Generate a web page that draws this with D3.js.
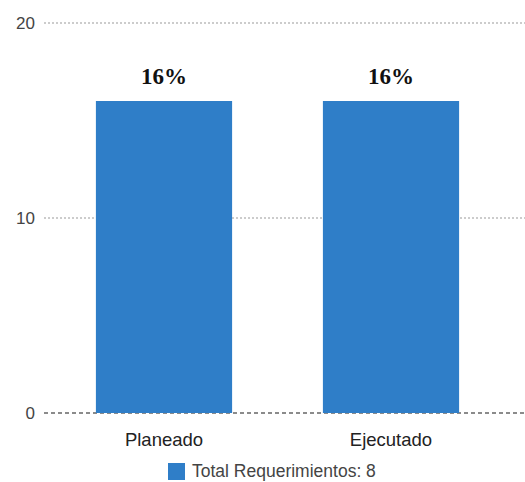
<!DOCTYPE html>
<html><head><meta charset="utf-8">
<script src="https://cdn.jsdelivr.net/npm/d3@7"></script>
<style>body{margin:0;background:#fff}</style>
</head><body>
<svg id="c" width="525" height="482"></svg>
<script>
const categories = ["Planeado", "Ejecutado"];
const values = [16, 16];
const barLabels = ["16%", "16%"];
const yTicks = [0, 10, 20];
const legendLabel = "Total Requerimientos: 8";

const svg = d3.select("#c");
const x = d3.scaleBand().domain(categories).range([50.5, 504.5]).paddingInner(0.4).paddingOuter(0.2);
const y = d3.scaleLinear().domain([0, 20]).range([413, 23]);

// grid
yTicks.forEach(t => {
  svg.append("line").attr("x1", 44).attr("x2", 525).attr("y1", y(t)).attr("y2", y(t))
    .attr("stroke", t === 0 ? "#666" : "#999").attr("stroke-width", t === 0 ? 1.3 : 1)
    .attr("stroke-dasharray", t === 0 ? "4,3" : "2,2");
  svg.append("text").attr("x", 35).attr("y", y(t)).attr("dy", "0.35em").attr("text-anchor", "end")
    .attr("font-family", "Liberation Sans, Arial, sans-serif").attr("font-size", 17).attr("fill", "#444").text(t);
});

svg.selectAll("rect.bar").data(values).enter().append("rect").attr("class", "bar")
  .attr("x", (d, i) => x(categories[i])).attr("width", x.bandwidth())
  .attr("y", d => y(d)).attr("height", d => y(0) - y(d)).attr("fill", "#2f7ec8");

svg.selectAll("text.lbl").data(values).enter().append("text").attr("class", "lbl")
  .attr("x", (d, i) => x(categories[i]) + x.bandwidth() / 2).attr("y", d => y(d) - 17)
  .attr("text-anchor", "middle").attr("font-family", "Liberation Serif, serif").attr("font-weight", "bold")
  .attr("font-size", 23).attr("fill", "#111").text((d, i) => barLabels[i]);

svg.selectAll("text.cat").data(categories).enter().append("text").attr("class", "cat")
  .attr("x", d => x(d) + x.bandwidth() / 2).attr("y", 446).attr("text-anchor", "middle")
  .attr("font-family", "Liberation Sans, Arial, sans-serif").attr("font-size", 18.5).attr("fill", "#222").text(d => d);

svg.append("rect").attr("x", 168).attr("y", 463).attr("width", 17).attr("height", 17).attr("fill", "#2f7ec8");
svg.append("text").attr("x", 192).attr("y", 477).attr("font-family", "Liberation Sans, Arial, sans-serif")
  .attr("font-size", 17.5).attr("fill", "#444").text(legendLabel);
</script>
</body></html>
